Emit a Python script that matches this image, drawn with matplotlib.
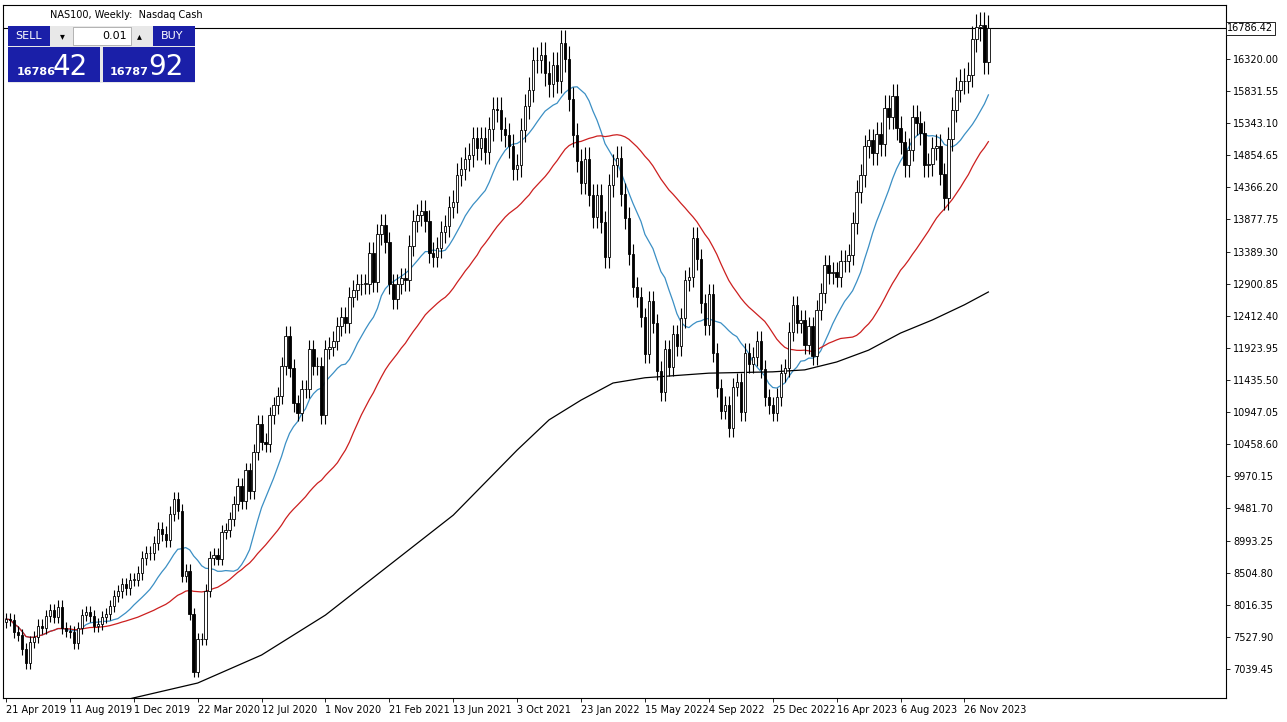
import matplotlib
matplotlib.use("Agg")
import matplotlib.pyplot as plt
import numpy as np
import pandas as pd
from matplotlib.patches import Rectangle

closes = [7800,7780,7600,7550,7340,7130,7450,7530,7700,7670,7850,7940,7830,7990,7660,7620,
7600,7430,7660,7860,7900,7850,7700,7720,7830,7880,8000,8150,8220,8330,8270,8400,
8400,8500,8730,8800,8800,8950,9170,9100,9000,9400,9620,9440,8460,8530,7880,7000,
7500,7490,8230,8730,8780,8720,9120,9150,9320,9550,9820,9590,10060,9750,10340,10770,
10500,10460,10900,11050,11200,11650,12110,11620,11080,10940,11300,11300,11900,11650,11650,10900,
11900,11940,12030,12250,12400,12300,12700,12800,12890,12900,12900,13370,12930,13650,13800,13530,
12900,12670,12900,12990,12950,13480,13850,13950,14010,13860,13370,13310,13450,13690,13780,14070,
14150,14560,14650,14800,14860,15110,14960,15110,14900,15250,15560,15550,15250,15170,15000,14650,
14700,15240,15600,15850,16300,16300,16380,16100,15940,16230,15990,16560,16320,15710,15160,14770,
14440,14800,14250,13920,14250,13840,13300,14400,14700,14820,14260,13900,13350,12850,12700,12390,
11830,12640,12300,11580,11250,11900,11640,12130,11950,12380,12950,13000,13600,13270,12600,12270,
12750,11850,11310,10970,11060,10700,11330,11400,10950,11850,11680,11790,12030,11600,11170,11050,
10940,11180,11540,11620,12170,12570,12300,12350,11970,12250,11800,12500,12760,13180,13060,13080,
13000,13250,13240,13340,13830,14300,14550,14990,15080,14890,15180,15030,15580,15440,15750,15270,
15050,14700,14940,15430,15350,15200,14700,14720,14960,15000,14570,14200,15100,15550,15850,15980,
15990,16080,16620,16800,16830,16280,16786]
first_open = 7750
ma200_idx = [0, 32, 48, 64, 80, 96, 112, 128, 136, 144, 152, 160, 176, 192, 200, 208, 216, 224, 232, 240, 246]
ma200_val = [6150, 6600, 6826, 7252, 7860, 8620, 9380, 10370, 10830, 11130, 11390, 11470, 11540, 11560,
             11590, 11710, 11890, 12150, 12350, 12580, 12775]
xlabels = ["21 Apr 2019","11 Aug 2019","1 Dec 2019","22 Mar 2020","12 Jul 2020","1 Nov 2020",
"21 Feb 2021","13 Jun 2021","3 Oct 2021","23 Jan 2022","15 May 2022","4 Sep 2022",
"25 Dec 2022","16 Apr 2023","6 Aug 2023","26 Nov 2023"]
yticks = [16320.00,15831.55,15343.10,14854.65,14366.20,13877.75,13389.30,12900.85,12412.40,
11923.95,11435.50,10947.05,10458.60,9970.15,9481.70,8993.25,8504.80,8016.35,7527.90,7039.45]
last_price = 16786.42

c = np.array(closes, float)
o = np.concatenate([[first_open], c[:-1]])
wick = 0.012
hi = np.maximum(o, c) * (1 + wick)
lo = np.minimum(o, c) * (1 - wick)
n = len(c)
x = np.arange(n)

W, H = 1287, 722
fig = plt.figure(figsize=(W/100, H/100), dpi=100)
ax = fig.add_axes([3/W, 1-698/H, (1226-3)/W, (698-5)/H])
ax.set_xlim(-0.75, 305.5)
ax.set_ylim(6598, 17141)

s = pd.Series(c)
ax.plot(x, s.rolling(15, min_periods=1).mean(), color="#3b8fc4", lw=0.9)
ax.plot(x, s.rolling(40, min_periods=1).mean(), color="#cc1f1f", lw=0.9)
ax.plot(ma200_idx, ma200_val, color="black", lw=0.9)

ax.vlines(x, lo, hi, color="black", lw=0.8)
for i in range(n):
    b, t = min(o[i], c[i]), max(o[i], c[i])
    fc = "white" if c[i] >= o[i] else "black"
    ax.add_patch(Rectangle((i-0.3, b), 0.6, max(t-b, 5), facecolor=fc, edgecolor="black", lw=0.6, zorder=3))

ax.axhline(last_price, color="black", lw=0.8)

ax.yaxis.tick_right()
ax.set_yticks(yticks)
ax.set_yticklabels([f"{v:.2f}" for v in yticks], fontsize=7)
ax.set_xticks(np.arange(0, 16*16, 16))
ax.set_xticklabels(xlabels, fontsize=7, ha="left")
ax.tick_params(length=3, width=0.6, pad=2)
for sp in ax.spines.values():
    sp.set_linewidth(0.8)
ax.text(1.001, last_price, f"{last_price:.2f}", transform=ax.get_yaxis_transform(), fontsize=7,
        va="center", ha="left", bbox=dict(facecolor="white", edgecolor="black", lw=0.6, pad=1))

fig.text(50/W, 1-15/H, "NAS100, Weekly:  Nasdaq Cash", fontsize=7, va="center")

def box(x0, y0, w, h, **kw):
    fig.patches.append(Rectangle((x0/W, 1-(y0+h)/H), w/W, h/H, transform=fig.transFigure, **kw))
box(8, 26, 187, 57, facecolor="#e8e8e8", edgecolor="none")
box(8, 47, 92, 35, facecolor="#1a1fa8", edgecolor="none")
box(103, 47, 92, 35, facecolor="#1a1fa8", edgecolor="none")
box(8, 26, 42, 20, facecolor="#1a1fa8", edgecolor="none")
box(153, 26, 42, 20, facecolor="#1a1fa8", edgecolor="none")
box(73, 27, 58, 18, facecolor="white", edgecolor="#999999", lw=0.5)
fig.text(29/W, 1-36/H, "SELL", color="white", fontsize=8, ha="center", va="center")
fig.text(172/W, 1-36/H, "BUY", color="white", fontsize=8, ha="center", va="center")
fig.text(127/W, 1-36/H, "0.01", fontsize=8, ha="right", va="center")
fig.text(62/W, 1-36/H, "▾", fontsize=7, ha="center", va="center")
fig.text(139/W, 1-36/H, "▴", fontsize=7, ha="center", va="center")
fig.text(17/W, 1-72/H, "16786", color="white", fontsize=8, fontweight="bold", va="center")
fig.text(53/W, 1-67/H, "42", color="white", fontsize=20, va="center")
fig.text(110/W, 1-72/H, "16787", color="white", fontsize=8, fontweight="bold", va="center")
fig.text(148/W, 1-67/H, "92", color="white", fontsize=20, va="center")

fig.savefig("out.png", dpi=100)
